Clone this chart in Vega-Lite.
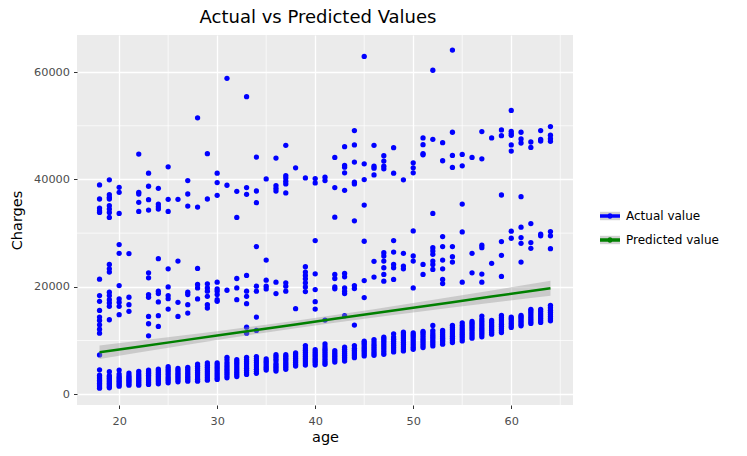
{
"$schema": "https://vega.github.io/schema/vega-lite/v6.json",
"width": 496, "height": 370,
"autosize": {"type": "none"},
"padding": {"left": 77, "top": 35, "right": 174, "bottom": 51},
"background": "white",
"title": {"text": "Actual vs Predicted Values", "fontSize": 18, "font": "DejaVu Sans", "fontWeight": "normal", "color": "black", "anchor": "middle", "offset": 8, "dx": -7},
"config": {
  "view": {"fill": "#ebebeb", "stroke": null},
  "font": "DejaVu Sans",
  "axis": {"domain": false, "grid": true, "gridColor": "white", "gridWidth": 1.3, "tickColor": "#333333", "tickSize": 3.5, "tickWidth": 1, "labelColor": "#4d4d4d", "labelFontSize": 11.3, "labelFont": "DejaVu Sans", "labelPadding": 2, "titleFont": "DejaVu Sans", "titleFontSize": 14.5, "titleFontWeight": "normal", "titleColor": "black", "titlePadding": 5},
  "axisX": {"labelPadding": 7, "titlePadding": 4},
  "axisY": {"labelPadding": 4, "titlePadding": 9}
},
"datasets": {
"gx": [{"a":25},{"a":35},{"a":45},{"a":55},{"a":65}],
"gy": [{"c":10000},{"c":30000},{"c":50000}],
"fit": [
{"a":18,"c":7810,"lo":6561,"hi":9059},{"a":22,"c":8847,"lo":7756,"hi":9938},{"a":26,"c":9884,"lo":8937,"hi":10831},{"a":30,"c":10922,"lo":10097,"hi":11747},{"a":34,"c":11959,"lo":11223,"hi":12695},{"a":38,"c":12996,"lo":12303,"hi":13689},{"a":42,"c":14033,"lo":13329,"hi":14737},{"a":46,"c":15070,"lo":14303,"hi":15837},{"a":50,"c":16108,"lo":15238,"hi":16978},{"a":54,"c":17145,"lo":16143,"hi":18147},{"a":58,"c":18182,"lo":17029,"hi":19335},{"a":62,"c":19219,"lo":17904,"hi":20534},{"a":64,"c":19738,"lo":18338,"hi":21138}
],
"pts": [
{"a":18,"c":1120},{"a":18,"c":1400},{"a":18,"c":1700},{"a":18,"c":2000},{"a":18,"c":2300},{"a":18,"c":2600},{"a":18,"c":2900},{"a":18,"c":3200},{"a":18,"c":3550},{"a":18,"c":4550},
{"a":19,"c":1180},{"a":19,"c":1450},{"a":19,"c":1750},{"a":19,"c":2050},{"a":19,"c":2350},{"a":19,"c":2650},{"a":19,"c":2950},{"a":19,"c":3250},{"a":19,"c":3450},{"a":19,"c":4180},
{"a":20,"c":1500},{"a":20,"c":1800},{"a":20,"c":2100},{"a":20,"c":2400},{"a":20,"c":2700},{"a":20,"c":3000},{"a":20,"c":3300},{"a":20,"c":3750},{"a":20,"c":4500},
{"a":21,"c":1690},{"a":21,"c":2000},{"a":21,"c":2300},{"a":21,"c":2600},{"a":21,"c":2900},{"a":21,"c":3200},{"a":21,"c":3500},{"a":21,"c":3935},
{"a":22,"c":1690},{"a":22,"c":2000},{"a":22,"c":2350},{"a":22,"c":2700},{"a":22,"c":3050},{"a":22,"c":3400},{"a":22,"c":3750},{"a":22,"c":4250},
{"a":23,"c":1815},{"a":23,"c":2150},{"a":23,"c":2500},{"a":23,"c":2850},{"a":23,"c":3200},{"a":23,"c":3550},{"a":23,"c":3900},{"a":23,"c":4200},{"a":23,"c":4500},
{"a":24,"c":1930},{"a":24,"c":2300},{"a":24,"c":2650},{"a":24,"c":3000},{"a":24,"c":3350},{"a":24,"c":3700},{"a":24,"c":4050},{"a":24,"c":4400},{"a":24,"c":4685},
{"a":25,"c":2120},{"a":25,"c":2500},{"a":25,"c":2850},{"a":25,"c":3200},{"a":25,"c":3600},{"a":25,"c":4000},{"a":25,"c":4400},{"a":25,"c":4750},{"a":25,"c":5120},
{"a":26,"c":2305},{"a":26,"c":2650},{"a":26,"c":3000},{"a":26,"c":3350},{"a":26,"c":3700},{"a":26,"c":4050},{"a":26,"c":4450},{"a":26,"c":4810},
{"a":27,"c":2435},{"a":27,"c":2800},{"a":27,"c":3150},{"a":27,"c":3500},{"a":27,"c":3850},{"a":27,"c":4250},{"a":27,"c":4650},{"a":27,"c":5000},
{"a":28,"c":2435},{"a":28,"c":2800},{"a":28,"c":3200},{"a":28,"c":3600},{"a":28,"c":4000},{"a":28,"c":4400},{"a":28,"c":4800},{"a":28,"c":5200},{"a":28,"c":5620},
{"a":29,"c":2620},{"a":29,"c":3000},{"a":29,"c":3400},{"a":29,"c":3800},{"a":29,"c":4200},{"a":29,"c":4600},{"a":29,"c":5000},{"a":29,"c":5400},{"a":29,"c":5810},
{"a":30,"c":2750},{"a":30,"c":3100},{"a":30,"c":3500},{"a":30,"c":3900},{"a":30,"c":4300},{"a":30,"c":4700},{"a":30,"c":5050},{"a":30,"c":5450},{"a":30,"c":5810},
{"a":31,"c":3060},{"a":31,"c":3450},{"a":31,"c":3850},{"a":31,"c":4250},{"a":31,"c":4650},{"a":31,"c":5050},{"a":31,"c":5450},{"a":31,"c":5900},{"a":31,"c":6400},{"a":31,"c":6870},
{"a":32,"c":3300},{"a":32,"c":3700},{"a":32,"c":4100},{"a":32,"c":4500},{"a":32,"c":4900},{"a":32,"c":5300},{"a":32,"c":5700},{"a":32,"c":6050},{"a":32,"c":6430},
{"a":33,"c":3690},{"a":33,"c":4050},{"a":33,"c":4450},{"a":33,"c":4850},{"a":33,"c":5250},{"a":33,"c":5650},{"a":33,"c":6050},{"a":33,"c":6450},{"a":33,"c":6870},
{"a":34,"c":3880},{"a":34,"c":4250},{"a":34,"c":4650},{"a":34,"c":5050},{"a":34,"c":5450},{"a":34,"c":5850},{"a":34,"c":6250},{"a":34,"c":6600},{"a":34,"c":7000},
{"a":35,"c":4500},{"a":35,"c":4800},{"a":35,"c":5100},{"a":35,"c":5450},{"a":35,"c":5800},{"a":35,"c":6150},{"a":35,"c":6560},
{"a":36,"c":4310},{"a":36,"c":4650},{"a":36,"c":5000},{"a":36,"c":5350},{"a":36,"c":5700},{"a":36,"c":6250},{"a":36,"c":6600},{"a":36,"c":7000},{"a":36,"c":7370},
{"a":37,"c":4630},{"a":37,"c":5000},{"a":37,"c":5350},{"a":37,"c":5700},{"a":37,"c":6050},{"a":37,"c":6400},{"a":37,"c":6700},{"a":37,"c":7050},{"a":37,"c":7370},
{"a":38,"c":5250},{"a":38,"c":5600},{"a":38,"c":5950},{"a":38,"c":6300},{"a":38,"c":6650},{"a":38,"c":7000},{"a":38,"c":7350},{"a":38,"c":7680},
{"a":39,"c":5430},{"a":39,"c":5800},{"a":39,"c":6200},{"a":39,"c":6600},{"a":39,"c":7000},{"a":39,"c":7400},{"a":39,"c":7800},{"a":39,"c":8200},{"a":39,"c":8600},{"a":39,"c":9050},
{"a":40,"c":5430},{"a":40,"c":5800},{"a":40,"c":6150},{"a":40,"c":6500},{"a":40,"c":6850},{"a":40,"c":7200},{"a":40,"c":7550},{"a":40,"c":7900},{"a":40,"c":8300},
{"a":41,"c":5560},{"a":41,"c":5950},{"a":41,"c":6350},{"a":41,"c":6750},{"a":41,"c":7150},{"a":41,"c":7550},{"a":41,"c":7950},{"a":41,"c":8350},{"a":41,"c":8800},{"a":41,"c":9370},
{"a":42,"c":6000},{"a":42,"c":6350},{"a":42,"c":6700},{"a":42,"c":7050},{"a":42,"c":7400},{"a":42,"c":7750},{"a":42,"c":8120},
{"a":43,"c":6180},{"a":43,"c":6550},{"a":43,"c":6900},{"a":43,"c":7250},{"a":43,"c":7600},{"a":43,"c":7950},{"a":43,"c":8350},{"a":43,"c":8750},
{"a":44,"c":6800},{"a":44,"c":7150},{"a":44,"c":7500},{"a":44,"c":7850},{"a":44,"c":8200},{"a":44,"c":8550},{"a":44,"c":9050},
{"a":45,"c":7120},{"a":45,"c":7500},{"a":45,"c":7850},{"a":45,"c":8200},{"a":45,"c":8550},{"a":45,"c":8900},{"a":45,"c":9300},{"a":45,"c":9600},{"a":45,"c":9870},
{"a":46,"c":7250},{"a":46,"c":7650},{"a":46,"c":8050},{"a":46,"c":8450},{"a":46,"c":8850},{"a":46,"c":9250},{"a":46,"c":9700},{"a":46,"c":10180},
{"a":47,"c":7440},{"a":47,"c":7850},{"a":47,"c":8250},{"a":47,"c":8650},{"a":47,"c":9050},{"a":47,"c":9450},{"a":47,"c":9850},{"a":47,"c":10250},{"a":47,"c":10620},
{"a":48,"c":7870},{"a":48,"c":8250},{"a":48,"c":8650},{"a":48,"c":9050},{"a":48,"c":9450},{"a":48,"c":9850},{"a":48,"c":10250},{"a":48,"c":10650},{"a":48,"c":11240},
{"a":49,"c":8060},{"a":49,"c":8450},{"a":49,"c":8850},{"a":49,"c":9250},{"a":49,"c":9650},{"a":49,"c":10050},{"a":49,"c":10450},{"a":49,"c":10850},{"a":49,"c":11200},{"a":49,"c":11560},
{"a":50,"c":8370},{"a":50,"c":8750},{"a":50,"c":9150},{"a":50,"c":9550},{"a":50,"c":9950},{"a":50,"c":10350},{"a":50,"c":10750},{"a":50,"c":11100},{"a":50,"c":11430},
{"a":51,"c":8680},{"a":51,"c":9050},{"a":51,"c":9450},{"a":51,"c":9850},{"a":51,"c":10250},{"a":51,"c":10650},{"a":51,"c":11050},{"a":51,"c":11400},{"a":51,"c":11680},
{"a":52,"c":9000},{"a":52,"c":9400},{"a":52,"c":9800},{"a":52,"c":10200},{"a":52,"c":10600},{"a":52,"c":11000},{"a":52,"c":11400},{"a":52,"c":11850},{"a":52,"c":12800},
{"a":53,"c":9310},{"a":53,"c":9700},{"a":53,"c":10050},{"a":53,"c":10400},{"a":53,"c":10750},{"a":53,"c":11100},{"a":53,"c":11500},{"a":53,"c":11870},
{"a":54,"c":9620},{"a":54,"c":10000},{"a":54,"c":10400},{"a":54,"c":10800},{"a":54,"c":11200},{"a":54,"c":11600},{"a":54,"c":12000},{"a":54,"c":12400},{"a":54,"c":12800},
{"a":55,"c":9930},{"a":55,"c":10350},{"a":55,"c":10750},{"a":55,"c":11150},{"a":55,"c":11550},{"a":55,"c":11950},{"a":55,"c":12350},{"a":55,"c":12800},{"a":55,"c":13300},
{"a":56,"c":10430},{"a":56,"c":10850},{"a":56,"c":11250},{"a":56,"c":11650},{"a":56,"c":12050},{"a":56,"c":12450},{"a":56,"c":12850},{"a":56,"c":13200},{"a":56,"c":13550},
{"a":57,"c":10680},{"a":57,"c":11100},{"a":57,"c":11500},{"a":57,"c":11900},{"a":57,"c":12300},{"a":57,"c":12700},{"a":57,"c":13100},{"a":57,"c":13550},{"a":57,"c":14000},{"a":57,"c":14560},
{"a":58,"c":11180},{"a":58,"c":11550},{"a":58,"c":11900},{"a":58,"c":12250},{"a":58,"c":12600},{"a":58,"c":12950},{"a":58,"c":13350},{"a":58,"c":13740},
{"a":59,"c":11490},{"a":59,"c":11850},{"a":59,"c":12250},{"a":59,"c":12650},{"a":59,"c":13050},{"a":59,"c":13450},{"a":59,"c":13850},{"a":59,"c":14250},{"a":59,"c":14680},
{"a":60,"c":12430},{"a":60,"c":12750},{"a":60,"c":13100},{"a":60,"c":13450},{"a":60,"c":13800},{"a":60,"c":14100},{"a":60,"c":14370},
{"a":61,"c":12740},{"a":61,"c":13050},{"a":61,"c":13400},{"a":61,"c":13750},{"a":61,"c":14100},{"a":61,"c":14400},{"a":61,"c":14680},
{"a":62,"c":13180},{"a":62,"c":13550},{"a":62,"c":13950},{"a":62,"c":14350},{"a":62,"c":14750},{"a":62,"c":15150},{"a":62,"c":15500},{"a":62,"c":15800},
{"a":63,"c":13370},{"a":63,"c":13750},{"a":63,"c":14150},{"a":63,"c":14550},{"a":63,"c":14950},{"a":63,"c":15400},{"a":63,"c":15800},
{"a":64,"c":13680},{"a":64,"c":14050},{"a":64,"c":14450},{"a":64,"c":14850},{"a":64,"c":15250},{"a":64,"c":15650},{"a":64,"c":16100},{"a":64,"c":16550},
{"a":18,"c":21420},{"a":18,"c":18365},{"a":18,"c":17300},{"a":18,"c":15610},{"a":18,"c":14370},{"a":18,"c":13740},{"a":18,"c":12930},{"a":18,"c":12120},{"a":18,"c":11370},{"a":18,"c":7310},
{"a":19,"c":24175},{"a":19,"c":23360},{"a":19,"c":22740},{"a":19,"c":18990},{"a":19,"c":18365},{"a":19,"c":17615},{"a":19,"c":16990},{"a":19,"c":16365},{"a":19,"c":13870},
{"a":20,"c":27860},{"a":20,"c":26235},{"a":20,"c":20240},{"a":20,"c":17740},{"a":20,"c":17115},{"a":20,"c":16365},{"a":20,"c":14805},
{"a":21,"c":26170},{"a":21,"c":18055},{"a":21,"c":16680},{"a":21,"c":15430},
{"a":23,"c":22615},{"a":23,"c":21680},{"a":23,"c":18550},{"a":23,"c":18055},{"a":23,"c":14495},{"a":23,"c":13120},{"a":23,"c":10870},
{"a":24,"c":25240},{"a":24,"c":19180},{"a":24,"c":18740},{"a":24,"c":17180},{"a":24,"c":14620},{"a":24,"c":12620},
{"a":25,"c":23360},{"a":25,"c":19990},{"a":25,"c":18365},{"a":25,"c":17800},{"a":25,"c":15865},
{"a":26,"c":24800},{"a":26,"c":17115},{"a":26,"c":14495},
{"a":27,"c":18990},{"a":27,"c":18550},{"a":27,"c":16680},{"a":27,"c":15115},
{"a":28,"c":23425},{"a":28,"c":20430},{"a":28,"c":19800},{"a":28,"c":17740},
{"a":29,"c":20550},{"a":29,"c":19800},{"a":29,"c":19180},{"a":29,"c":18240},{"a":29,"c":16680},{"a":29,"c":16055},
{"a":30,"c":20865},{"a":30,"c":19615},{"a":30,"c":19180},{"a":30,"c":18550},{"a":30,"c":17615},{"a":30,"c":17300},
{"a":31,"c":19365},
{"a":32,"c":21550},{"a":32,"c":19800},{"a":32,"c":17615},
{"a":33,"c":22115},{"a":33,"c":19180},{"a":33,"c":18240},{"a":33,"c":16865},{"a":33,"c":12490},{"a":33,"c":11370},
{"a":34,"c":27490},{"a":34,"c":20115},{"a":34,"c":19180},{"a":34,"c":14370},{"a":34,"c":11870},
{"a":35,"c":24990},{"a":35,"c":21240},{"a":35,"c":20115},{"a":35,"c":19615},
{"a":36,"c":20865},{"a":36,"c":18740},
{"a":37,"c":20740},{"a":37,"c":20115},{"a":37,"c":19180},
{"a":38,"c":15930},
{"a":39,"c":23735},{"a":39,"c":22740},{"a":39,"c":22115},{"a":39,"c":21490},{"a":39,"c":20740},{"a":39,"c":19990},{"a":39,"c":19115},
{"a":40,"c":28610},{"a":40,"c":22430},{"a":40,"c":19490},{"a":40,"c":17240},{"a":40,"c":15865},
{"a":41,"c":13810},
{"a":42,"c":22300},{"a":42,"c":21550},{"a":42,"c":19990},{"a":42,"c":19620},
{"a":43,"c":22490},{"a":43,"c":21870},{"a":43,"c":19800},{"a":43,"c":19180},{"a":43,"c":18740},{"a":43,"c":14620},
{"a":44,"c":20240},{"a":44,"c":19680},{"a":44,"c":12870},
{"a":45,"c":28490},{"a":45,"c":21170},{"a":45,"c":17990},
{"a":46,"c":24740},{"a":46,"c":21810},
{"a":47,"c":26360},{"a":47,"c":25740},{"a":47,"c":24800},{"a":47,"c":23550},{"a":47,"c":22300},{"a":47,"c":21050},
{"a":48,"c":28610},{"a":48,"c":26480},{"a":48,"c":24170},{"a":48,"c":23550},{"a":48,"c":21370},
{"a":49,"c":26240},{"a":49,"c":23860},{"a":49,"c":23360},
{"a":50,"c":30420},{"a":50,"c":25740},{"a":50,"c":24800},{"a":50,"c":19800},
{"a":51,"c":24170},{"a":51,"c":22300},
{"a":52,"c":27300},{"a":52,"c":26670},{"a":52,"c":26050},{"a":52,"c":24800},{"a":52,"c":24170},{"a":52,"c":23240},
{"a":53,"c":29360},{"a":53,"c":27490},{"a":53,"c":24990},{"a":53,"c":23360},{"a":53,"c":21370},{"a":53,"c":20610},
{"a":54,"c":27490},{"a":54,"c":25610},{"a":54,"c":24610},
{"a":55,"c":30230},{"a":55,"c":20860},
{"a":56,"c":26240},{"a":56,"c":22610},
{"a":57,"c":27740},{"a":57,"c":27300},{"a":57,"c":22370},{"a":57,"c":20860},
{"a":58,"c":24370},
{"a":59,"c":28420},{"a":59,"c":25860},{"a":59,"c":21940},
{"a":60,"c":30360},{"a":60,"c":29050},
{"a":61,"c":31110},{"a":61,"c":29170},{"a":61,"c":28110},{"a":61,"c":24610},
{"a":62,"c":31790},{"a":62,"c":28240},{"a":62,"c":27170},
{"a":63,"c":29800},{"a":63,"c":29490},
{"a":64,"c":30300},{"a":64,"c":29490},{"a":64,"c":27110},
{"a":18,"c":38980},{"a":18,"c":36355},{"a":18,"c":34670},{"a":18,"c":34170},{"a":18,"c":33860},
{"a":19,"c":39920},{"a":19,"c":37170},{"a":19,"c":36670},{"a":19,"c":36355},{"a":19,"c":35110},{"a":19,"c":34480},{"a":19,"c":33860},{"a":19,"c":32920},
{"a":20,"c":38540},{"a":20,"c":37600},{"a":20,"c":33670},
{"a":22,"c":44730},{"a":22,"c":37600},{"a":22,"c":37290},{"a":22,"c":35730},{"a":22,"c":34040},
{"a":23,"c":41170},{"a":23,"c":38730},{"a":23,"c":36230},{"a":23,"c":34290},
{"a":24,"c":38350},{"a":24,"c":35420},{"a":24,"c":34920},{"a":24,"c":34480},
{"a":25,"c":42350},{"a":25,"c":36290},{"a":25,"c":34040},
{"a":26,"c":36290},
{"a":27,"c":39790},{"a":27,"c":37290},{"a":27,"c":35040},
{"a":28,"c":51480},{"a":28,"c":34860},
{"a":29,"c":44790},{"a":29,"c":36355},
{"a":30,"c":41170},{"a":30,"c":39420},{"a":30,"c":37040},
{"a":31,"c":58840},{"a":31,"c":38920},
{"a":32,"c":37790},{"a":32,"c":32920},
{"a":33,"c":55410},{"a":33,"c":38480},{"a":33,"c":37230},
{"a":34,"c":44170},{"a":34,"c":37850},{"a":34,"c":35670},
{"a":35,"c":40100},
{"a":36,"c":43980},{"a":36,"c":38850},{"a":36,"c":38350},{"a":36,"c":37850},
{"a":37,"c":46350},{"a":37,"c":40725},{"a":37,"c":40290},{"a":37,"c":39670},{"a":37,"c":39170},{"a":37,"c":37480},
{"a":38,"c":42165},
{"a":39,"c":40290},
{"a":40,"c":40165},{"a":40,"c":39350},
{"a":41,"c":40415},{"a":41,"c":39790},
{"a":42,"c":44110},{"a":42,"c":38480},{"a":42,"c":32980},
{"a":43,"c":46100},{"a":43,"c":42600},{"a":43,"c":42290},{"a":43,"c":41230},{"a":43,"c":37980},
{"a":44,"c":49100},{"a":44,"c":46420},{"a":44,"c":43230},{"a":44,"c":39480},{"a":44,"c":39170},{"a":44,"c":32290},
{"a":45,"c":62910},{"a":45,"c":42915},{"a":45,"c":39980},{"a":45,"c":35230},
{"a":46,"c":46350},{"a":46,"c":42480},{"a":46,"c":42100},{"a":46,"c":40850},
{"a":47,"c":44415},{"a":47,"c":43420},{"a":47,"c":42480},{"a":47,"c":41980},
{"a":48,"c":45910},{"a":48,"c":41170},
{"a":49,"c":39920},
{"a":50,"c":43100},{"a":50,"c":42165},{"a":50,"c":41230},
{"a":51,"c":47730},{"a":51,"c":46475},{"a":51,"c":44790},{"a":51,"c":44600},
{"a":52,"c":60340},{"a":52,"c":47480},{"a":52,"c":33670},
{"a":53,"c":46850},{"a":53,"c":43480},
{"a":54,"c":64090},{"a":54,"c":48790},{"a":54,"c":44480},{"a":54,"c":42230},
{"a":55,"c":44660},{"a":55,"c":42540},{"a":55,"c":35420},
{"a":56,"c":44100},
{"a":57,"c":48910},{"a":57,"c":43850},
{"a":58,"c":47730},
{"a":59,"c":49220},{"a":59,"c":48160},{"a":59,"c":37100},
{"a":60,"c":52850},{"a":60,"c":48970},{"a":60,"c":48540},{"a":60,"c":48230},{"a":60,"c":46420},{"a":60,"c":45290},
{"a":61,"c":48790},{"a":61,"c":47540},{"a":61,"c":46790},{"a":61,"c":36790},
{"a":62,"c":46975},{"a":62,"c":45970},
{"a":63,"c":49100},{"a":63,"c":47480},{"a":63,"c":47160},
{"a":64,"c":49850},{"a":64,"c":48230},{"a":64,"c":47600},{"a":64,"c":47100}
]
},
"layer": [
{
  "data": {"name": "gx"},
  "mark": {"type": "rule", "color": "white", "strokeWidth": 0.7},
  "encoding": {"x": {"field": "a", "type": "quantitative", "scale": {"domain": [15.7, 66.3], "nice": false, "zero": false}}}
},
{
  "data": {"name": "gy"},
  "mark": {"type": "rule", "color": "white", "strokeWidth": 0.7},
  "encoding": {"y": {"field": "c", "type": "quantitative", "scale": {"domain": [-2011, 66903], "nice": false, "zero": false}}}
},
{
  "data": {"name": "pts"},
  "mark": {"type": "point", "filled": true, "shape": "circle", "size": 28, "opacity": 1, "strokeWidth": 0},
  "encoding": {
    "x": {"field": "a", "type": "quantitative", "scale": {"domain": [15.7, 66.3], "nice": false, "zero": false}, "axis": {"values": [20, 30, 40, 50, 60], "title": "age"}},
    "y": {"field": "c", "type": "quantitative", "scale": {"domain": [-2011, 66903], "nice": false, "zero": false}, "axis": {"values": [0, 20000, 40000, 60000], "format": "d", "title": "Charges"}},
    "color": {"datum": "Actual value", "type": "nominal", "scale": {"domain": ["Actual value", "Predicted value"], "range": ["#0000ff", "#008000"]},
      "legend": {"title": null, "orient": "none", "legendX": 523, "legendY": 171, "zindex": 3, "symbolType": "M-1,-0.18H1V0.18H-1Z M0.28,0A0.28,0.28,0,1,1,-0.28,0A0.28,0.28,0,1,1,0.28,0Z", "symbolSize": 400, "symbolStrokeWidth": 0, "symbolOpacity": 1, "labelFontSize": 12, "labelFont": "DejaVu Sans", "labelColor": "black", "labelOffset": 6, "rowPadding": 8, "padding": 0}}
  }
},
{
  "data": {"name": "fit"},
  "mark": {"type": "area", "opacity": 0.4},
  "encoding": {
    "x": {"field": "a", "type": "quantitative", "scale": {"domain": [15.7, 66.3], "nice": false, "zero": false}},
    "y": {"field": "lo", "type": "quantitative", "scale": {"domain": [-2011, 66903], "nice": false, "zero": false}},
    "y2": {"field": "hi"},
    "fill": {"datum": "Predicted value ", "type": "nominal", "scale": {"domain": ["Actual value ", "Predicted value "], "range": ["#999999", "#999999"]},
      "legend": {"title": null, "orient": "none", "legendX": 523, "legendY": 171, "zindex": 1, "symbolType": "M-1,-0.42H1V0.42H-1Z", "symbolSize": 400, "symbolStrokeWidth": 0, "symbolOpacity": 0.45, "labelFontSize": 12, "labelFont": "DejaVu Sans", "labelOpacity": 0, "labelOffset": 6, "rowPadding": 8, "padding": 0}}
  }
},
{
  "data": {"name": "fit"},
  "mark": {"type": "line", "strokeWidth": 2.5},
  "encoding": {
    "x": {"field": "a", "type": "quantitative", "scale": {"domain": [15.7, 66.3], "nice": false, "zero": false}},
    "y": {"field": "c", "type": "quantitative", "scale": {"domain": [-2011, 66903], "nice": false, "zero": false}},
    "color": {"datum": "Predicted value", "type": "nominal", "legend": null}
  }
}
]
}
